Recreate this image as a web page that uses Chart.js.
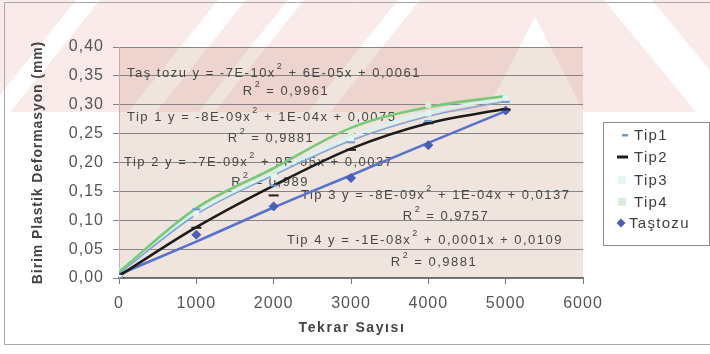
<!DOCTYPE html>
<html>
<head>
<meta charset="utf-8">
<script src="https://cdn.jsdelivr.net/npm/chart.js@4/dist/chart.umd.min.js"></script>
<style>
  html, body { margin: 0; padding: 0; background: #fff; }
  #wrap { width: 710px; height: 354px; }
</style>
</head>
<body>
<div id="wrap"><canvas id="c" width="710" height="354"></canvas></div>
<script>
// Repetition counts (x) and measured unit plastic deformation (mm)
const cycles = [0, 1000, 2000, 3000, 4000, 5000];
const tip1 = [0, 0.119, 0.160, 0.235, 0.272, 0.305];
const tip2 = [0, 0.087, 0.143, 0.222, 0.268, 0.292];
const tip3 = [0, 0.110, 0.175, 0.240, 0.285, 0.310];
const tip4 = [0, 0.135, 0.180, 0.250, 0.300, 0.315];
const tastozu = [0, 0.075, 0.124, 0.173, 0.230, 0.290];

// Second-order trend curves sampled at the same repetition counts
const trendTip1 = [0.0075, 0.110, 0.178, 0.238, 0.280, 0.306];
const trendTip2 = [0.0037, 0.088, 0.160, 0.224, 0.268, 0.293];
const trendTip3 = [0.0137, 0.114, 0.182, 0.245, 0.287, 0.311];
const trendTip4 = [0.0109, 0.121, 0.190, 0.260, 0.296, 0.315];
const trendTastozu = [0.0061, 0.063, 0.122, 0.178, 0.234, 0.289];

const seriesNames = ['Tip1', 'Tip2', 'Tip3', 'Tip4', 'Taştozu'];
const yTickLabels = ['0,00', '0,05', '0,10', '0,15', '0,20', '0,25', '0,30', '0,35', '0,40'];
const xTickLabels = ['0', '1000', '2000', '3000', '4000', '5000', '6000'];
const xTitle = 'Tekrar Sayısı';
const yTitle = 'Birim Plastik Deformasyon (mm)';

// Trendline equations: [text before exponent, text after exponent, R² value]
const eqTastozu = ['Taş tozu y = -7E-10x', ' + 6E-05x + 0,0061', '0,9961'];
const eqTip1 = ['Tip 1 y = -8E-09x', ' + 1E-04x + 0,0075', '0,9881'];
const eqTip2 = ['Tip 2 y = -7E-09x', ' + 9E-05x + 0,0037', '0,989'];
const eqTip3 = ['Tip 3 y = -8E-09x', ' + 1E-04x + 0,0137', '0,9757'];
const eqTip4 = ['Tip 4 y = -1E-08x', ' + 0,0001x + 0,0109', '0,9881'];

const pts = arr => cycles.map((x, i) => ({ x: x, y: arr[i] }));

const styles = {
  Tip1:    { color: '#7fa5d6', width: 1.6, point: 'line', pColor: '#6f98d0', radius: 4 },
  Tip2:    { color: '#1c1c1c', width: 2.6, point: 'line', pColor: '#1c1c1c', radius: 5 },
  Tip3:    { color: '#d6f3f1', width: 2.6, point: 'rect', pColor: '#e4f5f3', radius: 3.5 },
  Tip4:    { color: '#79c97a', width: 2.6, point: 'rect', pColor: '#d8eed6', radius: 3.5 },
  'Taştozu': { color: '#5871c9', width: 2.6, point: 'rectRot', pColor: '#4b5fb8', radius: 4.5 }
};

const measured = [tip1, tip2, tip3, tip4, tastozu];
const trends = [trendTip1, trendTip2, trendTip3, trendTip4, trendTastozu];
const equations = [eqTastozu, eqTip1, eqTip2, eqTip3, eqTip4];

// Label anchors relative to the plot area: [x, y] of the equation line (left edge) and the R² line (centre)
const eqAnchors = [[8, 26, 167, 44], [8, 70, 152, 91], [5, 115, 151, 135], [182, 148, 327, 169], [168, 193, 315, 215]];

const datasets = [];
seriesNames.forEach((name, i) => {
  const s = styles[name];
  datasets.push({
    label: name,
    data: pts(measured[i]),
    showLine: false,
    pointStyle: s.point,
    pointRadius: s.radius,
    pointBackgroundColor: s.pColor,
    pointBorderColor: s.pColor,
    pointBorderWidth: s.point === 'line' ? 2 : 1,
    order: 1
  });
});
// trend curves drawn beneath the markers; Tip2 curve on top of the light ones
[2, 0, 3, 4, 1].forEach((i, k) => {
  const s = styles[seriesNames[i]];
  datasets.push({
    label: seriesNames[i] + ' trend',
    data: pts(trends[i]),
    borderColor: s.color,
    borderWidth: s.width,
    pointRadius: 0,
    cubicInterpolationMode: 'monotone',
    fill: false,
    order: 10 - k
  });
});

const backdrop = {
  id: 'backdrop',
  beforeDraw(chart) {
    const ctx = chart.ctx, a = chart.chartArea;
    ctx.save();
    ctx.fillStyle = '#ffffff';
    ctx.fillRect(0, 0, chart.width, chart.height);
    ctx.fillStyle = '#f0e5de';
    ctx.fillRect(a.left, a.top, a.right - a.left, a.bottom - a.top);
    // faint pink band across the top, broken by lighter diagonal gaps
    const h = 112, k = 0.8 * h;
    ctx.beginPath();
    ctx.rect(0, 0, chart.width, h);
    [[76, 100], [218, 246], [288, 304], [398, 420]].forEach(([l, r]) => {
      ctx.moveTo(l, 0); ctx.lineTo(l - k, h); ctx.lineTo(r - k, h); ctx.lineTo(r, 0); ctx.closePath();
    });
    ctx.moveTo(535, 17); ctx.lineTo(486, h); ctx.lineTo(584, h); ctx.closePath();
    ctx.moveTo(604, 0); ctx.lineTo(696, h); ctx.lineTo(744, h); ctx.lineTo(652, 0); ctx.closePath();
    ctx.fillStyle = 'rgba(232,130,130,0.17)';
    ctx.fill('evenodd');
    ctx.restore();
    ctx.letterSpacing = '1px';
  }
};

function drawEquation(ctx, x, y, eq) {
  ctx.font = '13px "Liberation Sans", Arial, sans-serif';
  ctx.textBaseline = 'middle';
  ctx.textAlign = 'left';
  ctx.fillText(eq[0], x, y);
  let w = ctx.measureText(eq[0]).width;
  ctx.font = '9px "Liberation Sans", Arial, sans-serif';
  ctx.fillText('2', x + w + 1, y - 6);
  const w2 = ctx.measureText('2').width + 1;
  ctx.font = '13px "Liberation Sans", Arial, sans-serif';
  ctx.fillText(eq[1], x + w + w2, y);
}

function drawR2(ctx, cx, y, val) {
  ctx.font = '13px "Liberation Sans", Arial, sans-serif';
  const rest = ' = ' + val;
  const wR = ctx.measureText('R').width;
  const wRest = ctx.measureText(rest).width;
  ctx.font = '9px "Liberation Sans", Arial, sans-serif';
  const w2 = ctx.measureText('2').width + 1;
  const x = cx - (wR + w2 + wRest) / 2;
  ctx.textBaseline = 'middle';
  ctx.textAlign = 'left';
  ctx.fillText('2', x + wR + 1, y - 6);
  ctx.font = '13px "Liberation Sans", Arial, sans-serif';
  ctx.fillText('R', x, y);
  ctx.fillText(rest, x + wR + w2, y);
}

const trendLabels = {
  id: 'trendLabels',
  beforeDatasetsDraw(chart) {
    const ctx = chart.ctx, a = chart.chartArea;
    ctx.save();
    ctx.letterSpacing = '1.5px';
    ctx.fillStyle = '#474747';
    equations.forEach((eq, i) => {
      const p = eqAnchors[i];
      drawEquation(ctx, a.left + p[0], a.top + p[1], eq);
      drawR2(ctx, a.left + p[2], a.top + p[3], eq[2]);
    });
    ctx.restore();
  }
};

const frame = {
  id: 'frame',
  afterDraw(chart) {
    const ctx = chart.ctx, a = chart.chartArea;
    ctx.save();
    // axis titles
    ctx.fillStyle = '#444444';
    ctx.font = 'bold 14px "Liberation Sans", Arial, sans-serif';
    ctx.textAlign = 'center';
    ctx.textBaseline = 'middle';
    ctx.letterSpacing = '1.6px';
    ctx.fillText(xTitle, (a.left + a.right) / 2 + 1, 328);
    ctx.letterSpacing = '0.9px';
    ctx.translate(38, (a.top + a.bottom) / 2);
    ctx.rotate(-Math.PI / 2);
    ctx.fillText(yTitle, 0, 0);
    ctx.restore();

    // legend box
    ctx.save();
    const bx = 603, by = 122, bw = 106, bh = 123;
    ctx.fillStyle = '#ffffff';
    ctx.fillRect(bx, by, bw, bh);
    ctx.strokeStyle = '#8a8a8a';
    ctx.lineWidth = 1;
    ctx.strokeRect(bx + 0.5, by + 0.5, bw, bh);
    const rows = [135, 157, 180, 202, 223];
    ctx.font = '15px "Liberation Sans", Arial, sans-serif';
    ctx.textBaseline = 'middle';
    ctx.textAlign = 'left';
    ctx.letterSpacing = '1.3px';
    seriesNames.forEach((name, i) => {
      const s = styles[name];
      const y = rows[i];
      ctx.fillStyle = s.pColor;
      if (name === 'Tip1') {
        ctx.fillRect(622, y - 1, 6, 2.5);
      } else if (name === 'Tip2') {
        ctx.fillRect(617, y - 1.5, 11, 3);
      } else if (s.point === 'rect') {
        ctx.fillRect(618, y - 4, 8, 8);
      } else {
        ctx.beginPath();
        ctx.moveTo(621, y - 4.5); ctx.lineTo(625.5, y); ctx.lineTo(621, y + 4.5); ctx.lineTo(616.5, y);
        ctx.closePath(); ctx.fill();
      }
      ctx.fillStyle = '#3f3f3f';
      ctx.fillText(name, name === 'Taştozu' ? 629 : 634, y + 1);
    });
    ctx.restore();

    // outer chart frame
    ctx.save();
    ctx.strokeStyle = '#a8a8a8';
    ctx.lineWidth = 1;
    ctx.beginPath();
    ctx.moveTo(712, 2.5); ctx.lineTo(4.5, 2.5); ctx.lineTo(4.5, 344.5); ctx.lineTo(712, 344.5);
    ctx.stroke();
    ctx.restore();
  }
};

new Chart(document.getElementById('c'), {
  type: 'line',
  data: { datasets: datasets },
  options: {
    responsive: false,
    animation: false,
    events: [],
    layout: { padding: { top: 47, right: 127, bottom: 0, left: 0 } },
    plugins: { legend: { display: false }, tooltip: { enabled: false } },
    scales: {
      x: {
        type: 'linear',
        min: 0, max: 6000,
        afterFit(scale) { scale.height = 76; },
        ticks: {
          stepSize: 1000,
          padding: 10,
          color: '#555555',
          font: { family: '"Liberation Sans", Arial, sans-serif', size: 16 },
          callback: v => xTickLabels[Math.round(v / 1000)]
        },
        grid: { drawOnChartArea: false, drawTicks: true, tickLength: 6, color: '#7a7a7a' },
        border: { color: '#6a6a6a', width: 1.5 }
      },
      y: {
        min: 0, max: 0.4,
        afterFit(scale) { scale.width = 119; },
        ticks: {
          stepSize: 0.05,
          padding: 9,
          color: '#555555',
          font: { family: '"Liberation Sans", Arial, sans-serif', size: 16 },
          callback: v => yTickLabels[Math.round(v / 0.05)]
        },
        grid: { color: '#858585', lineWidth: 1, tickLength: 6 },
        border: { color: 'rgba(200,150,140,0.7)', width: 1 }
      }
    }
  },
  plugins: [backdrop, trendLabels, frame]
});
</script>
</body>
</html>
